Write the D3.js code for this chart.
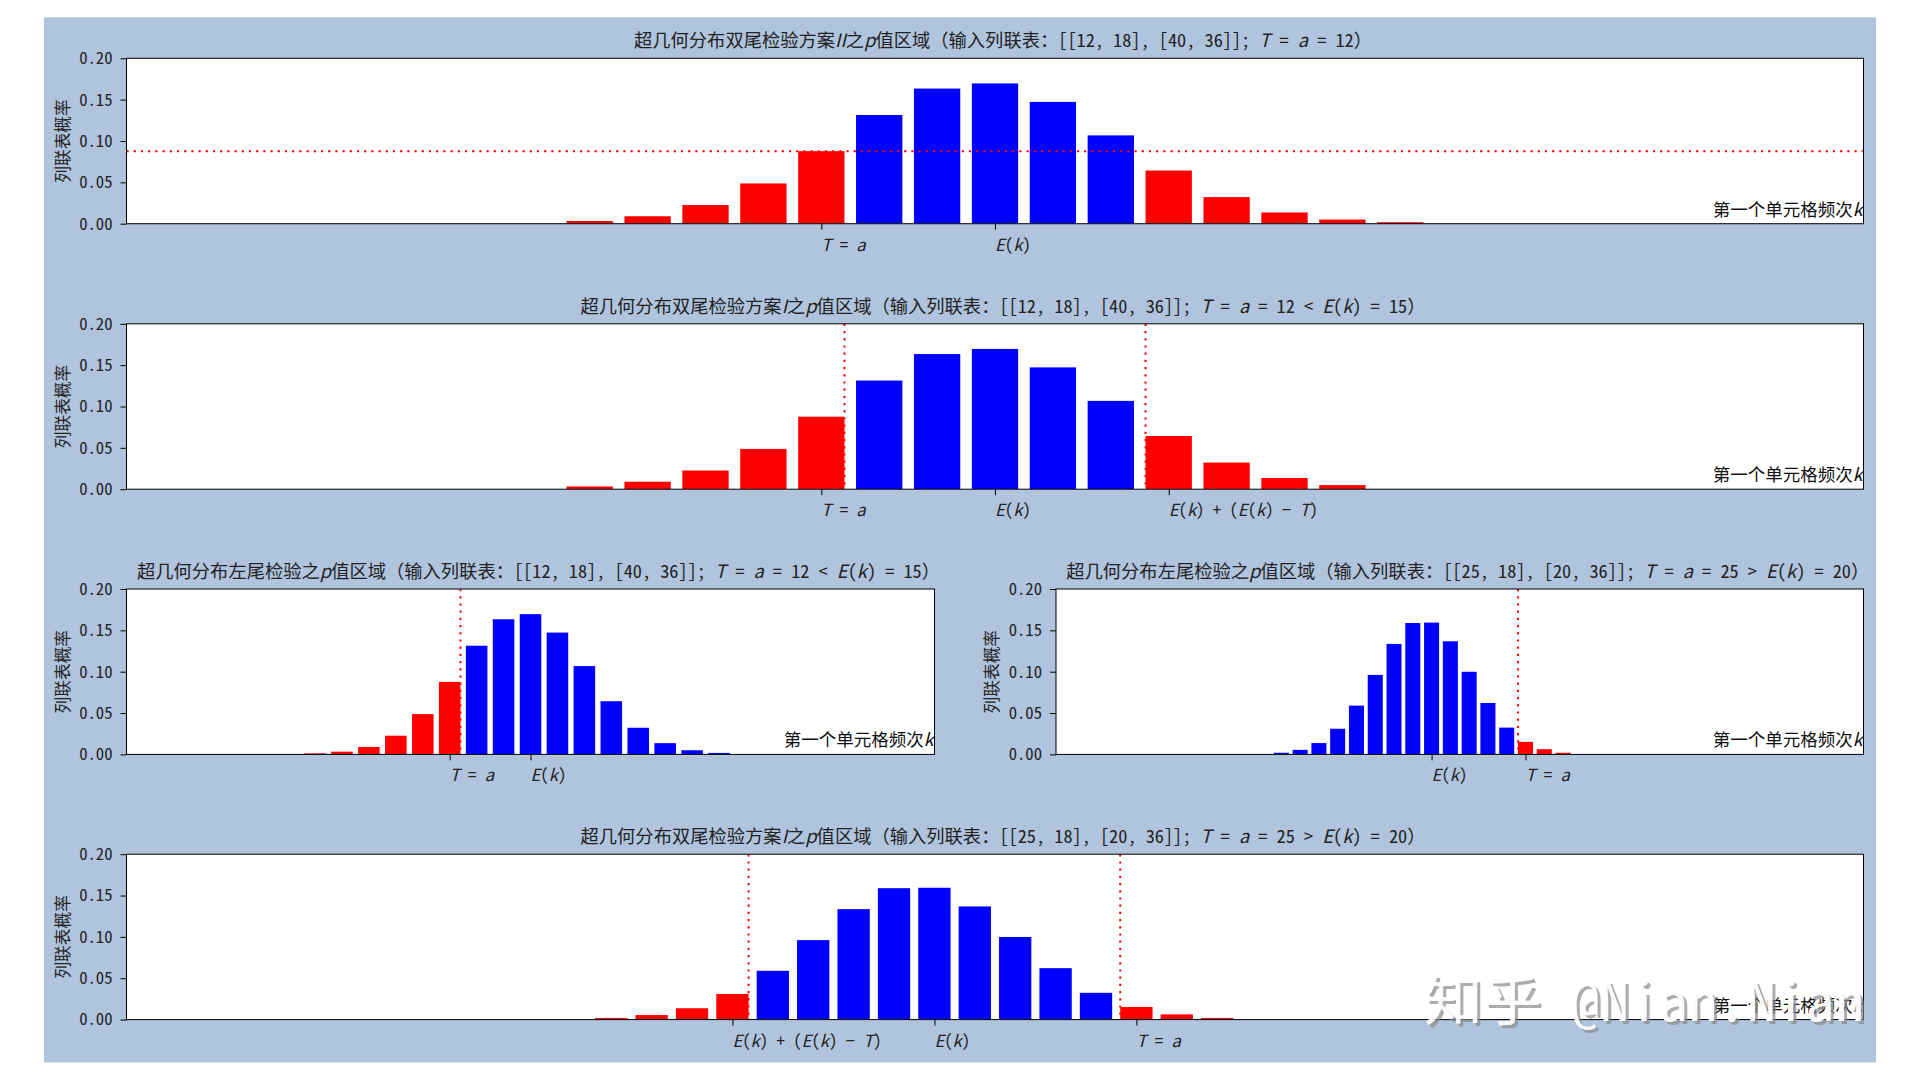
<!DOCTYPE html>
<html><head><meta charset="utf-8">
<script src="https://cdn.jsdelivr.net/npm/d3@7"></script>
<style>
body{margin:0;background:#ffffff;}
svg{display:block;}
</style>
</head><body>
<svg id="chart" width="1920" height="1080"></svg>
<script>
// ---------- data ----------
// contingency table A = [[12,18],[40,36]] : first-cell count k and its probability
const kA = [7, 8, 9, 10, 11, 12, 13, 14, 15, 16, 17, 18, 19, 20, 21, 22];
const pA = [0.0013, 0.0033, 0.0090, 0.0226, 0.0487, 0.0877, 0.1314, 0.1634, 0.1696, 0.1473, 0.1068, 0.0643, 0.0322, 0.0136, 0.0050, 0.0018];
const TA = 12, EA = 15, kMaxA = 30;
// visible bar range [first k, last k] in each of the three panels of table A
const shownA = [[8, 22], [8, 21], [7, 22]];

// contingency table B = [[25,18],[20,36]]
const kB = [12, 13, 14, 15, 16, 17, 18, 19, 20, 21, 22, 23, 24, 25, 26, 27];
const pB = [0.0020, 0.0055, 0.0137, 0.0310, 0.0590, 0.0961, 0.1336, 0.1589, 0.1594, 0.1368, 0.0999, 0.0622, 0.0324, 0.0152, 0.0063, 0.0020];
const TB = 25, EB = 20, kMaxB = 43;

const yTicks = [0.00, 0.05, 0.10, 0.15, 0.20];
const titles = [
  "超几何分布双尾检验方案$II$之$p$值区域（输入列联表：[[12, 18], [40, 36]]; $T = a = 12$）",
  "超几何分布双尾检验方案$I$之$p$值区域（输入列联表：[[12, 18], [40, 36]]; $T = a = 12 < E(k) = 15$）",
  "超几何分布左尾检验之$p$值区域（输入列联表：[[12, 18], [40, 36]]; $T = a = 12 < E(k) = 15$）",
  "超几何分布左尾检验之$p$值区域（输入列联表：[[25, 18], [20, 36]]; $T = a = 25 > E(k) = 20$）",
  "超几何分布双尾检验方案$I$之$p$值区域（输入列联表：[[25, 18], [20, 36]]; $T = a = 25 > E(k) = 20$）"
];
const labelT = "$T = a$", labelE = "$E(k)$", labelM = "$E(k) + (E(k) - T)$";
const yLabel = "列联表概率";
const xLabel = "第一个单元格频次$k$";
const watermark = "知乎 @Nian.Nian";

// ---------- layout ----------
const FONT = "'Noto Sans Mono CJK SC','Noto Sans CJK SC','Noto Sans CJK JP',sans-serif";
const IFONT = "'Noto Sans CJK SC','Noto Sans CJK JP',sans-serif";
const RED = "#ff0000", BLUE = "#0000ff";
const AX_H = 165.4;
const L = 126.5, R = 1863.5, ML = 934.5, MR = 1056;
const tops = [58.3, 323.8, 589, 854.2];

const svg = d3.select("#chart");
svg.append("rect").attr("x", 44).attr("y", 17.3).attr("width", 1832).attr("height", 1045.2).attr("fill", "#b0c4de");

function mathText(sel, str) {
  const parts = str.split("$");
  parts.forEach((part, i) => {
    if (!part) return;
    if (i % 2 === 0) {
      sel.append("tspan").text(part);
    } else {
      const s = part.replace(/-/g, "−");
      const re = /([A-Za-z]+)|([^A-Za-z]+)/g;
      let m;
      while ((m = re.exec(s)) !== null) {
        const t = sel.append("tspan").text(m[0]);
        if (m[1]) t.attr("font-style", "italic").attr("font-family", IFONT);
      }
    }
  });
}

const mirrorA = 2 * EA - TA, mirrorB = 2 * EB - TB;
const dataA = kA.map((k, i) => ({k, p: pA[i]}));
const dataB = kB.map((k, i) => ({k, p: pB[i]}));
const pTA = pA[kA.indexOf(TA)];
const inRange = (data, r) => data.filter(d => d.k >= r[0] && d.k <= r[1]);

const panels = [
  {x0: L, x1: R, y0: tops[0], data: inRange(dataA, shownA[0]), kMax: kMaxA, title: titles[0],
   ticks: [[TA, labelT], [EA, labelE]],
   red: d => d.p <= pTA, hline: pTA, vlines: []},
  {x0: L, x1: R, y0: tops[1], data: inRange(dataA, shownA[1]), kMax: kMaxA, title: titles[1],
   ticks: [[TA, labelT], [EA, labelE], [mirrorA, labelM]],
   red: d => d.k <= TA || d.k >= mirrorA, vlines: [TA + 0.4, mirrorA - 0.4]},
  {x0: L, x1: ML, y0: tops[2], data: inRange(dataA, shownA[2]), kMax: kMaxA, title: titles[2],
   ticks: [[TA, labelT], [EA, labelE]],
   red: d => d.k <= TA, vlines: [TA + 0.4]},
  {x0: MR, x1: R, y0: tops[2], data: dataB, kMax: kMaxB, title: titles[3],
   ticks: [[EB, labelE], [TB, labelT]],
   red: d => d.k >= TB, vlines: [TB - 0.4]},
  {x0: L, x1: R, y0: tops[3], data: dataB, kMax: kMaxB, title: titles[4],
   ticks: [[mirrorB, labelM], [EB, labelE], [TB, labelT]],
   red: d => d.k <= mirrorB || d.k >= TB, vlines: [mirrorB + 0.4, TB - 0.4]}
];

panels.forEach((P, pi) => {
  const x = d3.scaleLinear().domain([0, P.kMax]).range([P.x0, P.x1]);
  const y = d3.scaleLinear().domain([0, 0.2]).range([P.y0 + AX_H, P.y0]);
  const g = svg.append("g");
  const bw = x(0.8) - x(0);

  g.append("rect").attr("x", P.x0).attr("y", P.y0).attr("width", P.x1 - P.x0).attr("height", AX_H).attr("fill", "#fff");

  const clip = "clip" + pi;
  svg.append("clipPath").attr("id", clip).append("rect")
    .attr("x", P.x0).attr("y", P.y0).attr("width", P.x1 - P.x0).attr("height", AX_H);
  const plot = g.append("g").attr("clip-path", `url(#${clip})`);

  plot.selectAll("rect.bar").data(P.data).join("rect").attr("class", "bar")
    .attr("x", d => x(d.k) - bw / 2).attr("width", bw)
    .attr("y", d => y(d.p)).attr("height", d => y(0) - y(d.p))
    .attr("fill", d => P.red(d) ? RED : BLUE);

  if (P.hline !== undefined) {
    plot.append("line").attr("x1", P.x0).attr("x2", P.x1)
      .attr("y1", y(P.hline)).attr("y2", y(P.hline))
      .attr("stroke", RED).attr("stroke-width", 2).attr("stroke-dasharray", "2.2,5");
  }
  P.vlines.forEach(v => {
    plot.append("line").attr("x1", x(v)).attr("x2", x(v))
      .attr("y1", P.y0).attr("y2", P.y0 + AX_H)
      .attr("stroke", RED).attr("stroke-width", 2).attr("stroke-dasharray", "2.2,5");
  });

  // y axis
  const ya = g.append("g").attr("transform", `translate(${P.x0},0)`)
    .call(d3.axisLeft(y).tickValues(yTicks).tickFormat(d3.format(".2f")).tickSize(6).tickPadding(8));
  ya.select(".domain").remove();
  ya.selectAll("line").attr("stroke", "#000").attr("stroke-width", 1);
  ya.selectAll("text").attr("font-family", FONT).attr("font-size", 16.7).attr("fill", "#222");

  // x axis (ticks only, labels with italic math, left-aligned at tick)
  const xa = g.append("g").attr("transform", `translate(0,${P.y0 + AX_H})`)
    .call(d3.axisBottom(x).tickValues(P.ticks.map(t => t[0])).tickFormat("").tickSize(6));
  xa.select(".domain").remove();
  xa.selectAll("line").attr("stroke", "#000").attr("stroke-width", 1);
  P.ticks.forEach(t => {
    const tx = g.append("text").attr("x", x(t[0])).attr("y", P.y0 + AX_H + 27)
      .attr("text-anchor", "start").attr("font-family", FONT).attr("font-size", 16.7).attr("fill", "#222");
    mathText(tx, t[1]);
  });

  // spines
  g.append("rect").attr("x", P.x0).attr("y", P.y0).attr("width", P.x1 - P.x0).attr("height", AX_H)
    .attr("fill", "none").attr("stroke", "#000").attr("stroke-width", 1);

  // title
  const tt = g.append("text").attr("x", (P.x0 + P.x1) / 2 + 8).attr("y", P.y0 - 11)
    .attr("text-anchor", "middle").attr("font-family", FONT).attr("font-size", 18.3).attr("fill", "#222");
  mathText(tt, P.title);

  // y label
  g.append("text").attr("transform", `translate(${P.x0 - 65},${P.y0 + AX_H / 2}) rotate(-90)`)
    .attr("text-anchor", "middle").attr("dominant-baseline", "central")
    .attr("font-family", FONT).attr("font-size", 16.7).attr("fill", "#222").text(yLabel);

  // x label inside bottom-right
  const xl = g.append("text").attr("x", P.x1 - 1).attr("y", P.y0 + AX_H - 8)
    .attr("text-anchor", "end").attr("font-family", FONT).attr("font-size", 17.5).attr("fill", "#111");
  mathText(xl, xLabel);
});

// watermark
const wm = svg.append("g").attr("font-family", FONT).attr("font-size", 54);
wm.append("text").attr("x", 1427).attr("y", 1024).attr("fill", "#8a8a8a").attr("opacity", 0.7)
  .attr("textLength", 440).attr("lengthAdjust", "spacingAndGlyphs").text(watermark);
wm.append("text").attr("x", 1424).attr("y", 1021).attr("fill", "#ffffff").attr("opacity", 0.95)
  .attr("textLength", 440).attr("lengthAdjust", "spacingAndGlyphs").text(watermark);
</script>
</body></html>
